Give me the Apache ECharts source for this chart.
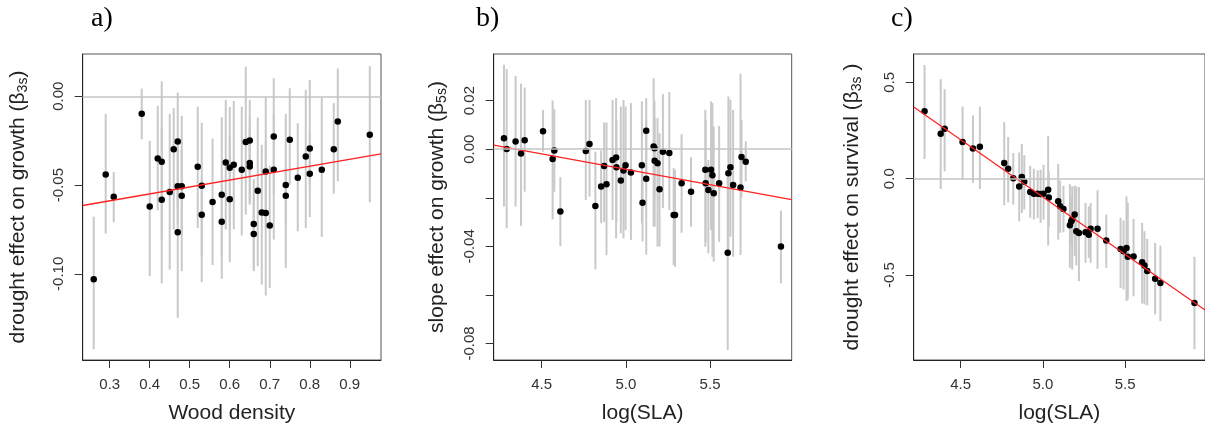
<!DOCTYPE html>
<html>
<head>
<meta charset="utf-8">
<title>drought effects</title>
<script src="https://cdn.jsdelivr.net/npm/echarts@6.0.0/dist/echarts.min.js"></script>
<style>
  html, body { margin: 0; padding: 0; background: #fff; overflow: hidden; }
  #myChart { width: 1205px; height: 429px; }
</style>
</head>
<body>
<div id="myChart"></div>
<script>
// a) wood density vs drought effect on growth
var aX = [0.26, 0.29, 0.31, 0.38, 0.40, 0.42, 0.43, 0.43, 0.45, 0.46, 0.47, 0.47, 0.47, 0.48, 0.48,
  0.52, 0.53, 0.53, 0.557, 0.58, 0.58, 0.59, 0.60, 0.60, 0.61, 0.63, 0.64, 0.65, 0.65, 0.65,
  0.66, 0.66, 0.67, 0.68, 0.69, 0.69, 0.70, 0.71, 0.71, 0.74, 0.74, 0.75, 0.77, 0.79, 0.80,
  0.80, 0.83, 0.86, 0.87, 0.95]
var aY = [-0.103, -0.044, -0.0566, -0.0099, -0.062, -0.035, -0.0369, -0.0582, -0.0539, -0.0298, -0.0255, -0.0766, -0.0507, -0.0507, -0.056,
  -0.0397, -0.0504, -0.0667, -0.0596, -0.0554, -0.0706, -0.0373, -0.0403, -0.058, -0.0386, -0.0414, -0.0258, -0.0249, -0.0376, -0.0395,
  -0.0719, -0.0775, -0.0532, -0.0654, -0.0657, -0.0423, -0.0728, -0.0227, -0.0414, -0.05, -0.056, -0.0245, -0.0459, -0.0339, -0.0294,
  -0.0436, -0.0414, -0.0298, -0.0142, -0.0217]
var aLo = [-0.1425, -0.0773, -0.071, -0.0242, -0.1013, -0.0642, -0.1054, -0.0807, -0.0976, -0.075, -0.062, -0.1247, -0.072, -0.0985, -0.078,
  -0.0742, -0.1047, -0.09, -0.095, -0.1028, -0.09, -0.075, -0.075, -0.0934, -0.075, -0.0785, -0.0667, -0.045, -0.061, -0.06,
  -0.0985, -0.097, -0.0957, -0.106, -0.1122, -0.075, -0.1079, -0.055, -0.0807, -0.0966, -0.072, -0.05, -0.076, -0.0742, -0.05,
  -0.068, -0.0792, -0.0549, -0.0479, -0.0597]
var aHi = [-0.0678, -0.0099, -0.0427, 0.0043, -0.0251, -0.0054, 0.0084, -0.0176, -0.0099, -0.0067, 0.0021, -0.052, -0.03, -0.011, -0.03,
  -0.0058, -0.0148, -0.046, -0.0238, -0.0118, -0.05, -0.002, -0.006, -0.0227, -0.0026, -0.0058, 0.0167, -0.002, -0.012, -0.018,
  -0.0466, -0.055, -0.012, -0.0273, -0.025, -0.0002, -0.0391, 0.0101, -0.01, -0.0099, -0.04, 0.0045, -0.0152, 0.0036, 0.0092,
  -0.02, -0.0006, -0.0039, 0.0157, 0.017]
var aFit = [[0.2325, -0.0615], [0.978, -0.0324]]
var aXTicks = [0.3, 0.4, 0.5, 0.6, 0.7, 0.8, 0.9]
var aYTicks = [-0.10, -0.05, 0.00]

// b) log(SLA) vs slope effect on growth
var bX = [4.276, 4.292, 4.345, 4.377, 4.399, 4.508, 4.565, 4.575, 4.611, 4.762, 4.784, 4.819, 4.853, 4.871, 4.885,
  4.921, 4.942, 4.944, 4.97, 4.986, 4.998, 5.03, 5.095, 5.099, 5.121, 5.121, 5.165, 5.17, 5.171, 5.188,
  5.2, 5.22, 5.258, 5.284, 5.292, 5.331, 5.387, 5.472, 5.474, 5.49, 5.506, 5.514, 5.522, 5.554, 5.605,
  5.609, 5.621, 5.637, 5.681, 5.687, 5.712, 5.921]
var bY = [0.0045, 0.0001, 0.0032, -0.0018, 0.0037, 0.0074, -0.004, -0.0005, -0.0257, -0.0007, 0.0021, -0.0234, -0.0154, -0.0069, -0.0144,
  -0.0044, -0.0034, -0.0074, -0.0129, -0.0088, -0.0066, -0.0096, -0.0066, -0.022, 0.0076, -0.0122, 0.0011, 0.0004, -0.0048, -0.0058,
  -0.0165, -0.0011, -0.0016, -0.0271, -0.0271, -0.014, -0.0175, -0.0085, -0.014, -0.0168, -0.0085, -0.0107, -0.0181, -0.014, -0.0426,
  -0.0099, -0.0074, -0.0147, -0.0158, -0.0032, -0.0052, -0.0401]
var bLo = [-0.0236, -0.0326, -0.0236, -0.0316, -0.0175, -0.001, -0.0289, -0.0175, -0.0399, -0.0209, -0.0195, -0.0495, -0.0305, -0.03, -0.0436,
  -0.0291, -0.0367, -0.03, -0.0346, -0.0367, -0.0333, -0.0374, -0.0305, -0.038, -0.01, -0.0434, -0.0319, -0.02, -0.0319, -0.0401,
  -0.0401, -0.0243, -0.025, -0.0477, -0.0484, -0.0344, -0.0319, -0.0401, -0.0381, -0.0429, -0.0333, -0.0443, -0.0463, -0.0381, -0.0827,
  -0.0429, -0.036, -0.0443, -0.0436, -0.02, -0.0133, -0.0553]
var bHi = [0.0348, 0.033, 0.0302, 0.027, 0.0254, 0.0162, 0.0201, 0.0165, -0.0115, 0.0203, 0.0203, -0.001, -0.0005, 0.011, 0.011,
  0.0203, 0.021, 0.012, 0.0176, 0.0203, 0.0176, 0.019, 0.0197, -0.009, 0.021, 0.012, 0.0293, 0.02, 0.0128, 0.0128,
  0.0066, 0.0227, 0.0235, -0.0078, -0.0085, 0.0062, -0.0033, 0.0162, 0.0121, -0.0044, 0.0197, 0.019, 0.0093, 0.0096, -0.0106,
  0.0217, 0.0203, 0.0162, 0.0311, 0.0121, 0.0032, -0.0253]
var bFit = [[4.215, 0.00164], [5.985, -0.0208]]
var bXTicks = [4.5, 5.0, 5.5]
var bYTicks = [-0.08, -0.06, -0.04, -0.02, 0.00, 0.02]
var bYLabels = [-0.08, -0.04, 0.00, 0.02]

// c) log(SLA) vs drought effect on survival
var cX = [4.281, 4.379, 4.403, 4.512, 4.575, 4.617, 4.765, 4.789, 4.82, 4.856, 4.872, 4.887, 4.923, 4.945, 4.968,
  4.986, 5.004, 5.032, 5.036, 5.093, 5.105, 5.125, 5.164, 5.172, 5.178, 5.193, 5.203, 5.219, 5.259, 5.279,
  5.29, 5.332, 5.385, 5.472, 5.49, 5.508, 5.516, 5.551, 5.603, 5.617, 5.634, 5.682, 5.714, 5.921]
var cY = [0.35, 0.233, 0.259, 0.19, 0.157, 0.166, 0.081, 0.052, 0.002, -0.041, 0.009, -0.016, -0.069, -0.078, -0.078,
  -0.079, -0.078, -0.057, -0.097, -0.117, -0.143, -0.157, -0.241, -0.221, -0.212, -0.186, -0.272, -0.281, -0.278, -0.291,
  -0.26, -0.26, -0.321, -0.364, -0.376, -0.359, -0.405, -0.403, -0.433, -0.45, -0.479, -0.519, -0.541, -0.644]
var cLo = [0.102, -0.053, 0.038, -0.002, -0.022, -0.053, -0.138, -0.122, -0.134, -0.221, -0.178, -0.16, -0.203, -0.212, -0.203,
  -0.229, -0.212, -0.347, -0.25, -0.316, -0.28, -0.278, -0.462, -0.35, -0.471, -0.4, -0.45, -0.531, -0.436, -0.41,
  -0.436, -0.467, -0.462, -0.566, -0.574, -0.634, -0.626, -0.609, -0.647, -0.652, -0.657, -0.703, -0.738, -0.884]
var cHi = [0.59, 0.516, 0.464, 0.374, 0.328, 0.374, 0.293, 0.216, 0.133, 0.136, 0.181, 0.122, 0.067, 0.052, 0.043,
  0.047, 0.072, 0.222, 0.038, 0.076, -0.01, -0.036, -0.028, -0.091, -0.04, -0.036, -0.04, -0.043, -0.126, -0.143,
  -0.126, -0.06, -0.186, -0.203, -0.216, -0.091, -0.126, -0.209, -0.229, -0.272, -0.312, -0.333, -0.347, -0.405]
var cFit = [[4.215, 0.372], [5.985, -0.681]]
var cXTicks = [4.5, 5.0, 5.5]
var cYTicks = [-0.5, 0.0, 0.5]

var FONT = '"Liberation Sans", Arial, sans-serif'
var LABEL_COLOR = '#333'
var BAR_COLOR = '#c9c9c9'

function zip3(x, a, b) {
  return x.map(function (v, i) { return [v, a[i], b[i]] })
}
function zip2(x, a) {
  return x.map(function (v, i) { return [v, a[i]] })
}

/* 一个面板的 x/y 轴 */
function makeXAxis(idx, min, max, ticks, name, fixed) {
  return {
    type: 'value', gridIndex: idx, min: min, max: max,
    splitLine: { show: false },
    axisLine: { show: true, onZero: false, lineStyle: { color: '#222', width: 1 } },
    axisTick: { show: true, inside: false, length: 8, customValues: ticks, lineStyle: { color: '#333' } },
    axisLabel: {
      customValues: ticks, margin: 17, color: LABEL_COLOR, fontSize: 15, fontFamily: FONT,
      formatter: function (v) { return v.toFixed(fixed) }
    },
    name: name, nameLocation: 'middle', nameGap: 43,
    nameTextStyle: { color: '#222', fontSize: 21, fontFamily: FONT }
  }
}
function makeYAxis(idx, min, max, ticks, labels, fixed, name, gap) {
  return {
    type: 'value', gridIndex: idx, min: min, max: max,
    splitLine: { show: false },
    axisLine: { show: true, onZero: false, lineStyle: { color: '#222', width: 1 } },
    axisTick: { show: true, inside: false, length: 8, customValues: ticks, lineStyle: { color: '#333' } },
    axisLabel: {
      customValues: labels, rotate: 90, margin: 16, color: LABEL_COLOR, fontSize: 15, fontFamily: FONT,
      formatter: function (v) { return v.toFixed(fixed) }
    },
    name: name, nameLocation: 'middle', nameGap: gap,
    nameTextStyle: {
      color: '#222', fontSize: 21, fontFamily: FONT,
      rich: {
        n: { fontSize: 21, fontFamily: FONT, color: '#222' },
        s: { fontSize: 14, fontFamily: FONT, color: '#222', padding: [9, 0, 0, 0] }
      }
    }
  }
}

/* 误差线 + 点 + 回归线 */
function makeSeries(idx, x, y, lo, hi, fit) {
  return [
    {
      type: 'custom', xAxisIndex: idx, yAxisIndex: idx, silent: true,
      data: zip3(x, lo, hi),
      encode: { x: 0, y: [1, 2] },
      renderItem: function (params, api) {
        var p1 = api.coord([api.value(0), api.value(1)])
        var p2 = api.coord([api.value(0), api.value(2)])
        return {
          type: 'line',
          shape: { x1: p1[0], y1: p1[1], x2: p2[0], y2: p2[1] },
          style: { stroke: BAR_COLOR, lineWidth: 2 }
        }
      },
      markLine: {
        silent: true, symbol: 'none', label: { show: false },
        lineStyle: { color: '#c4c4c4', width: 1.5, type: 'solid' },
        data: [{ yAxis: 0 }]
      },
      z: 1
    },
    {
      type: 'scatter', xAxisIndex: idx, yAxisIndex: idx, silent: true,
      data: zip2(x, y), symbolSize: 6.5,
      itemStyle: { color: '#000', opacity: 1 }, z: 3
    },
    {
      type: 'line', xAxisIndex: idx, yAxisIndex: idx, silent: true,
      data: fit, showSymbol: false,
      lineStyle: { color: '#f22', width: 1.3 }, z: 4
    }
  ]
}

var myChart = echarts.init(document.getElementById('myChart'), null, { renderer: 'canvas' })
var gridBase = { show: true, borderColor: '#555', borderWidth: 1, backgroundColor: 'transparent', top: 54, height: 306.7 }
var panelTitle = { fontFamily: '"Liberation Serif", serif', fontWeight: 'normal', fontSize: 28, color: '#000' }
var option = {
  animation: false,
  backgroundColor: '#fff',
  title: [
    { text: 'a)', left: 91, top: 5, padding: 0, textStyle: panelTitle },
    { text: 'b)', left: 476, top: 5, padding: 0, textStyle: panelTitle },
    { text: 'c)', left: 891, top: 5, padding: 0, textStyle: panelTitle }
  ],
  grid: [
    Object.assign({ left: 82.7, width: 298.3 }, gridBase),
    Object.assign({ left: 493.7, width: 298 }, gridBase),
    Object.assign({ left: 913.7, width: 298.3 }, gridBase)
  ],
  xAxis: [
    makeXAxis(0, 0.2325, 0.978, aXTicks, 'Wood density', 1),
    makeXAxis(1, 4.215, 5.985, bXTicks, 'log(SLA)', 1),
    makeXAxis(2, 4.215, 5.985, cXTicks, 'log(SLA)', 1)
  ],
  yAxis: [
    makeYAxis(0, -0.1485, 0.0238, aYTicks, aYTicks, 2, '{n|drought effect on growth (β}{s|3s}{n|)}', 53),
    makeYAxis(1, -0.0868, 0.0392, bYTicks, bYLabels, 2, '{n|slope effect on growth (β}{s|5s}{n|)}', 45),
    makeYAxis(2, -0.94, 0.6466, cYTicks, cYTicks, 1, '{n|drought effect on survival (β}{s|3s}{n| )}', 50)
  ],
  series: [].concat(
    makeSeries(0, aX, aY, aLo, aHi, aFit),
    makeSeries(1, bX, bY, bLo, bHi, bFit),
    makeSeries(2, cX, cY, cLo, cHi, cFit)
  )
}
myChart.setOption(option, true)
window.addEventListener('resize', function () {
  myChart.resize()
})
</script>
</body>
</html>
